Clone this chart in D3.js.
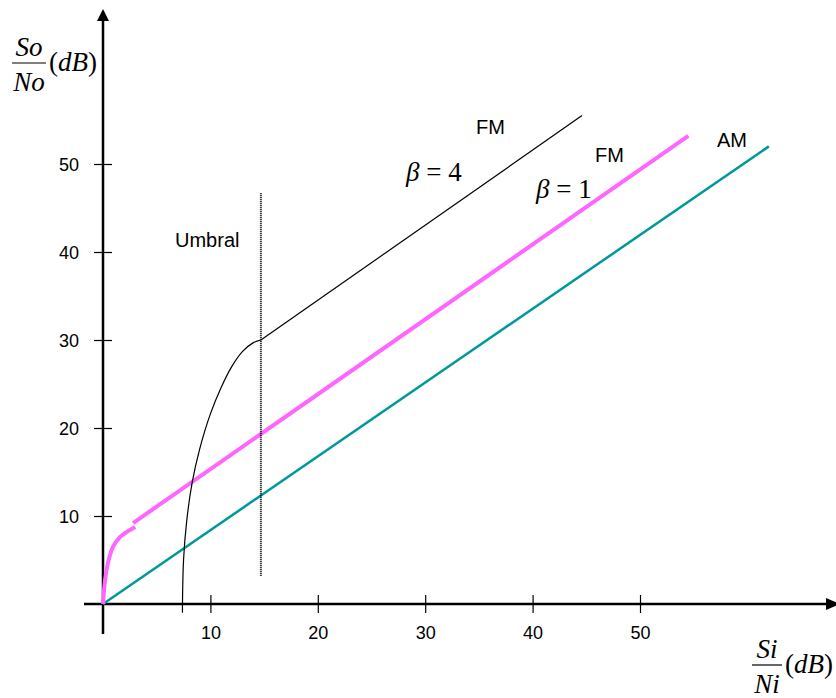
<!DOCTYPE html>
<html>
<head>
<meta charset="utf-8">
<script src="https://cdn.jsdelivr.net/npm/d3@7"></script>
<style>
  body { margin: 0; background: #fff; }
  svg { display: block; }
  .tick text { font: 18px Arial, "Liberation Sans", sans-serif; fill: #000; }
  .lbl { font: 20px Arial, "Liberation Sans", sans-serif; fill: #000; }
  .math { font-family: "Liberation Serif", "Times New Roman", serif; fill: #000; }
</style>
</head>
<body>
<svg id="chart" width="836" height="698"></svg>
<script>
// tick values
const xTicks = [10, 20, 30, 40, 50];
const yTicks = [10, 20, 30, 40, 50];

// AM: straight line
const amX = [0, 62];
const amY = [0, 52];

// FM beta = 1 (curved start, then linear)
const fm1CurveX = [0, 0.19, 0.47, 0.93, 1.58, 2.23, 3.0];
const fm1CurveY = [0, 2.7, 4.7, 6.5, 7.6, 8.2, 8.75];
const fm1LineX = [2.8, 54.5];
const fm1LineY = [9.2, 53.2];

// FM beta = 4 (threshold knee, then linear)
const fm4CurveX = [7.4, 7.4, 7.5, 7.8, 8.3, 9.0, 10.0, 11.0, 12.0, 13.0, 14.0, 14.7];
const fm4CurveY = [-1, 0, 5, 9.5, 13.8, 17.6, 21.6, 24.6, 27.0, 28.7, 29.7, 30];
const fm4LineX = [14.7, 44.6];
const fm4LineY = [30, 55.5];

// threshold (umbral)
const umbralX = 14.7;
const umbralY = [3.2, 46.7];

const svg = d3.select('#chart');

const x = d3.scaleLinear().domain([0, 50]).range([103, 640]);
const y = d3.scaleLinear().domain([0, 50]).range([604, 164]);

const pts = (xs, ys) => xs.map((v, i) => [v, ys[i]]);
const line = d3.line().x((d) => x(d[0])).y((d) => y(d[1]));
const curve = d3.line().x((d) => x(d[0])).y((d) => y(d[1])).curve(d3.curveCatmullRom.alpha(0.5));

// x axis
const gx = svg.append('g')
  .attr('transform', 'translate(0,' + y(0) + ')')
  .call(d3.axisBottom(x).tickValues(xTicks).tickSize(0).tickFormat(d3.format('d')));
gx.select('.domain').remove();
gx.selectAll('.tick line').attr('y1', -9).attr('y2', 9).attr('stroke', '#000').attr('stroke-width', 1.2);
gx.selectAll('.tick text').attr('y', 22).attr('dy', '0.71em');

// y axis
const gy = svg.append('g')
  .attr('transform', 'translate(' + x(0) + ',0)')
  .call(d3.axisLeft(y).tickValues(yTicks).tickSize(0).tickFormat(d3.format('d')));
gy.select('.domain').remove();
gy.selectAll('.tick line').attr('x1', -9).attr('x2', 9).attr('stroke', '#000').attr('stroke-width', 1.2);
gy.selectAll('.tick text').attr('x', -24).attr('dy', '0.35em');

// axis lines with arrows
svg.append('line').attr('x1', 84).attr('x2', 830).attr('y1', y(0)).attr('y2', y(0))
  .attr('stroke', '#000').attr('stroke-width', 2.5);
svg.append('path').attr('d', 'M826,' + (y(0) - 6) + 'L840,' + y(0) + 'L826,' + (y(0) + 6) + 'Z');
svg.append('line').attr('x1', x(0)).attr('x2', x(0)).attr('y1', 634).attr('y2', 16)
  .attr('stroke', '#000').attr('stroke-width', 2.5);
svg.append('path').attr('d', 'M' + (x(0) - 6) + ',21L' + x(0) + ',9L' + (x(0) + 6) + ',21Z');

// AM
svg.append('path').datum(pts(amX, amY)).attr('d', line)
  .attr('fill', 'none').attr('stroke', '#009999').attr('stroke-width', 2.5);

// FM beta = 1
svg.append('path').datum(pts(fm1CurveX, fm1CurveY)).attr('d', curve)
  .attr('fill', 'none').attr('stroke', '#ff66ff').attr('stroke-width', 4);
svg.append('path').datum(pts(fm1LineX, fm1LineY)).attr('d', line)
  .attr('fill', 'none').attr('stroke', '#ff66ff').attr('stroke-width', 4);

// FM beta = 4
svg.append('path').datum(pts(fm4CurveX, fm4CurveY)).attr('d', curve)
  .attr('fill', 'none').attr('stroke', '#000').attr('stroke-width', 1.2);
svg.append('path').datum(pts(fm4LineX, fm4LineY)).attr('d', line)
  .attr('fill', 'none').attr('stroke', '#000').attr('stroke-width', 1.2);

// threshold dotted line
svg.append('line')
  .attr('x1', x(umbralX)).attr('x2', x(umbralX))
  .attr('y1', y(umbralY[0])).attr('y2', y(umbralY[1]))
  .attr('stroke', '#000').attr('stroke-width', 2).attr('stroke-dasharray', '1,1');

// text labels
svg.append('text').attr('class', 'lbl').attr('x', 175).attr('y', 247).text('Umbral');
svg.append('text').attr('class', 'lbl').attr('x', 476).attr('y', 134).text('FM');
svg.append('text').attr('class', 'lbl').attr('x', 595).attr('y', 162).text('FM');
svg.append('text').attr('class', 'lbl').attr('x', 717).attr('y', 147).text('AM');

function beta(px, py, n) {
  const t = svg.append('text').attr('class', 'math').attr('x', px).attr('y', py).attr('font-size', 27);
  t.append('tspan').attr('font-style', 'italic').text('β');
  t.append('tspan').text(' = ' + n);
}
beta(406, 181, 4);
beta(536, 198, 1);

function fraction(px, py, num, den, w) {
  const g = svg.append('g').attr('class', 'math').attr('font-size', 27);
  g.append('text').attr('x', px + w / 2).attr('y', py - 7).attr('text-anchor', 'middle')
    .attr('font-style', 'italic').text(num);
  g.append('line').attr('x1', px).attr('x2', px + w).attr('y1', py).attr('y2', py)
    .attr('stroke', '#000').attr('stroke-width', 1.2);
  g.append('text').attr('x', px + w / 2).attr('y', py + 28).attr('text-anchor', 'middle')
    .attr('font-style', 'italic').text(den);
  const t = g.append('text').attr('x', px + w + 3).attr('y', py + 8);
  t.append('tspan').text('(');
  t.append('tspan').attr('font-style', 'italic').text('dB');
  t.append('tspan').text(')');
}
fraction(12, 63, 'So', 'No', 34);
fraction(752, 665, 'Si', 'Ni', 30);
</script>
</body>
</html>
